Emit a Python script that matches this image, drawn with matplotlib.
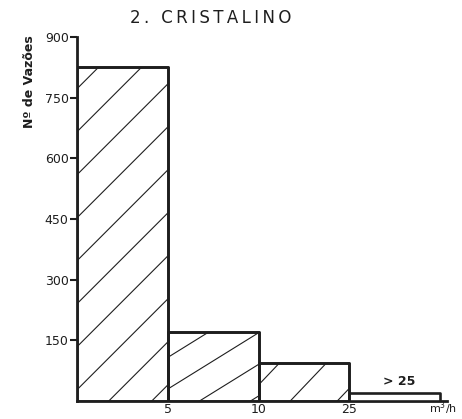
import matplotlib.pyplot as plt
from matplotlib.patches import Rectangle

# Flow classes (m3/h) and number of wells in each class
classes = ["0-5", "5-10", "10-25", ">25"]
counts = [825, 170, 95, 20]
edge_labels = ["5", "10", "25"]
yticks = [150, 300, 450, 600, 750, 900]

# hatch slope (in pixels) and spacing (px) for each bar
hatch_slope = [1.0, 0.62, 1.05, None]
hatch_gap = [43, 51, 47, None]

ink = "#1e1e1e"
W, H = 462, 419

fig = plt.figure(figsize=(W / 100, H / 100), dpi=100)
ax = fig.add_axes([77 / W, 1 - 401 / H, 370 / W, 364 / H])

x_max = 370 / 90.75
ax.set_xlim(0, x_max)
ax.set_ylim(0, 900)

px_x = 370 / x_max   # pixels per x unit
px_y = 364 / 900     # pixels per count

for i, (c, n) in enumerate(zip(classes, counts)):
    rect = Rectangle((i, 0), 1, n, facecolor="white", edgecolor=ink,
                     linewidth=1.9, zorder=3, joinstyle="round")
    ax.add_patch(rect)
    s = hatch_slope[i]
    if s is None:
        continue
    gap = hatch_gap[i] / px_x
    dy_per_dx = s * px_x / px_y
    # diagonal lines starting along the bottom edge, extended to the left
    start = i + 0.35 - gap * 20
    while start < i + 1:
        xs = [start, start + 20]
        ys = [0, 20 * dy_per_dx]
        ln, = ax.plot(xs, ys, color=ink, lw=0.8, zorder=4)
        clip = Rectangle((i, 0), 1, n, transform=ax.transData)
        ln.set_clip_path(clip)
        start += gap
    # redraw the outline on top of the hatch
    ax.add_patch(Rectangle((i, 0), 1, n, facecolor="none", edgecolor=ink,
                           linewidth=1.9, zorder=5, joinstyle="round"))

ax.spines["top"].set_visible(False)
ax.spines["right"].set_visible(False)
for sp in ["left", "bottom"]:
    ax.spines[sp].set_linewidth(2.0)
    ax.spines[sp].set_color(ink)

ax.set_yticks(yticks)
ax.set_yticklabels([str(v) for v in yticks], fontsize=9, color=ink)
ax.tick_params(axis="y", length=5, width=1.5, color=ink, pad=1)

ax.set_xticks(range(1, len(edge_labels) + 1))
ax.set_xticklabels(edge_labels, fontsize=9, color=ink)
ax.tick_params(axis="x", length=0, pad=1.5)

ax.text(4.03, -18, "m$^3$/h", ha="center", va="center", fontsize=8,
        color=ink, clip_on=False)
ax.text(3.55, counts[3] + 12, "> 25", ha="center", va="bottom",
        fontsize=9, fontweight="bold", color=ink)

title = "\u2009".join("2. CRISTALINO")
fig.text(211 / W, 1 - 18 / H, title, ha="center", va="center",
         fontsize=12, color=ink)
fig.text(30 / W, 1 - 82 / H, "Nº de Vazões", rotation=90, ha="center",
         va="center", fontsize=9, fontweight="bold", color=ink)

fig.savefig("out.png", dpi=100)
